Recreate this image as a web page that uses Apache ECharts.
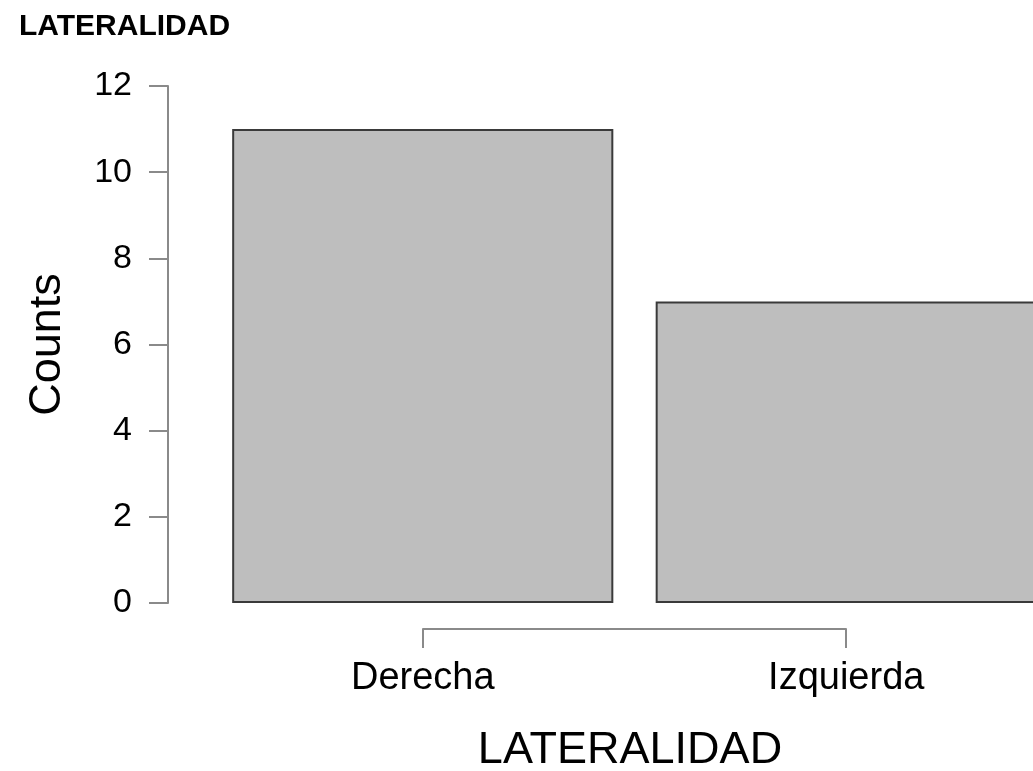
<!DOCTYPE html>
<html>
<head>
<meta charset="utf-8">
<script src="https://cdn.jsdelivr.net/npm/echarts@6/dist/echarts.min.js"></script>
<style>
html,body{margin:0;padding:0;background:#fff;}
#chart{width:1033px;height:771px;}
</style>
</head>
<body>
<div id="chart"></div>
<script>
const categories = ['Derecha', 'Izquierda'];
const counts = [11, 7];
const yTicks = [0, 2, 4, 6, 8, 10, 12];
const chartTitle = 'LATERALIDAD';
const xTitle = 'LATERALIDAD';
const yTitle = 'Counts';

const FONT = '"Liberation Sans", Arial, Helvetica, sans-serif';
const axisGray = '#8a8a8a';

const chart = echarts.init(document.getElementById('chart'), null, {renderer: 'canvas'});
chart.setOption({
  backgroundColor: '#ffffff',
  animation: false,
  title: {
    text: chartTitle,
    left: 14, top: 7,
    textStyle: {fontFamily: FONT, fontWeight: 'bold', fontSize: 30, color: '#000'}
  },
  grid: [
    {left: 211, width: 847, top: 86, height: 517, containLabel: false, outerBoundsMode: 'none'},
    {left: 423, width: 423, top: 600, height: 29, containLabel: false, outerBoundsMode: 'none'}
  ],
  xAxis: [
    {
      type: 'category', gridIndex: 0, data: categories,
      boundaryGap: true,
      axisLine: {show: false}, axisTick: {show: false},
      axisLabel: {fontFamily: FONT, fontSize: 38, color: '#000', margin: 57},
      name: xTitle, nameLocation: 'middle', nameGap: 125,
      nameTextStyle: {fontFamily: FONT, fontSize: 45, color: '#000', padding: [0, 9, 0, 0]}
    },
    {
      type: 'value', gridIndex: 1, min: 0, max: 1, interval: 1,
      axisLine: {show: true, lineStyle: {color: axisGray, width: 2}},
      axisTick: {show: true, length: 19, lineStyle: {color: axisGray, width: 2}},
      axisLabel: {show: false}, splitLine: {show: false}
    }
  ],
  yAxis: [
    {
      type: 'value', gridIndex: 0, min: yTicks[0], max: yTicks[yTicks.length - 1], interval: 2,
      offset: 43,
      axisLine: {show: true, lineStyle: {color: axisGray, width: 2}},
      axisTick: {show: true, length: 19, lineStyle: {color: axisGray, width: 2}},
      axisLabel: {fontFamily: FONT, fontSize: 34, color: '#000', margin: 36},
      splitLine: {show: false},
      name: yTitle, nameLocation: 'middle', nameGap: 98, nameRotate: 90,
      nameTextStyle: {fontFamily: FONT, fontSize: 45, color: '#000'}
    },
    {type: 'value', gridIndex: 1, show: false}
  ],
  series: [{
    type: 'bar', xAxisIndex: 0, yAxisIndex: 0,
    data: counts,
    barCategoryGap: '10%',
    itemStyle: {color: '#bebebe', borderColor: '#3a3a3a', borderWidth: 2}
  }]
});
</script>
</body>
</html>
